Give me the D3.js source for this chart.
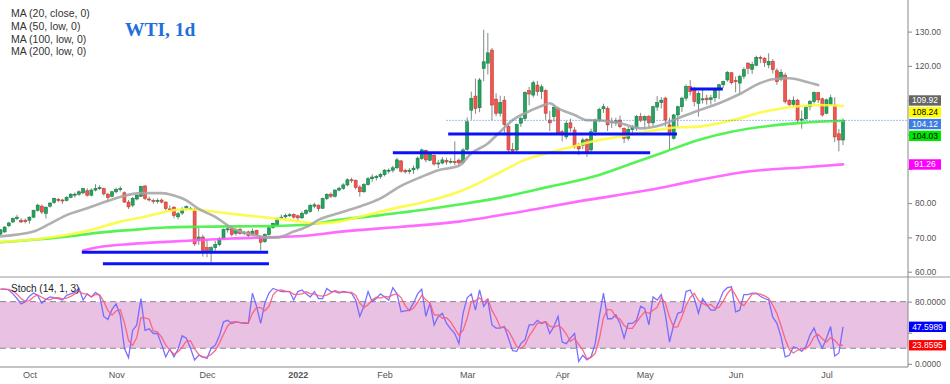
<!DOCTYPE html>
<html>
<head>
<meta charset="utf-8">
<script src="https://cdn.jsdelivr.net/npm/d3@7"></script>
<style>
  body { margin: 0; background: #fff; }
  svg { display: block; font-family: "Liberation Sans", Arial, sans-serif; }
</style>
</head>
<body>
<script>
// daily candles [open, high, low, close], 22 Sep 2021 .. 7 Jul 2022
const ohlc = [
  [71.0,72.4,70.6,72.2],[71.6,73.3,71.3,73.0],[73.4,74.5,73.0,74.2],[74.5,75.8,74.2,75.5],[75.5,76.6,75.0,75.9],
  [75.0,75.6,74.2,74.5],[75.0,75.5,74.1,74.6],[75.0,76.1,74.0,75.9],[75.9,78.1,75.6,77.9],[77.9,79.8,77.5,79.4],
  [79.1,79.6,76.8,77.4],[77.0,79.0,75.5,78.8],[79.1,80.3,78.7,80.0],[80.2,81.6,79.8,81.4],[81.1,81.5,80.3,81.0],
  [80.9,81.3,79.8,80.8],[80.8,82.0,80.5,81.7],[81.7,82.9,81.4,82.6],[82.5,83.1,81.6,82.6],[82.6,83.7,82.1,83.3],
  [83.0,84.4,82.6,84.2],[83.6,84.3,81.9,82.3],[82.3,84.3,82.0,83.8],[83.8,85.5,83.4,84.2],[84.2,85.2,83.8,84.5],
  [84.2,84.5,82.2,82.7],[82.6,83.0,80.4,81.6],[82.0,83.6,81.7,83.3],[83.3,84.5,82.8,84.0],[84.0,84.9,83.4,84.2],
  [83.0,83.4,80.1,80.3],[80.3,80.9,78.3,78.9],[79.4,81.8,78.8,81.4],[81.2,82.6,80.8,82.3],[82.0,85.1,81.8,84.8],
  [85.0,85.2,80.9,81.4],[81.2,81.9,80.5,81.0],[80.8,81.3,79.8,80.6],[80.6,81.4,79.9,80.8],[80.9,81.3,79.9,80.3],
  [80.3,80.5,77.9,78.4],[78.3,79.3,77.7,78.2],[78.8,79.1,75.6,76.4],[76.0,77.4,75.3,76.9],[77.1,78.8,76.5,78.2],
  [78.4,79.3,77.9,79.0],[78.5,78.9,78.1,78.5],[78.1,78.6,67.5,68.1],[69.1,72.9,67.8,70.1],[70.1,70.8,64.4,66.2],
  [67.0,69.2,64.2,65.7],[65.5,67.4,62.6,67.0],[67.0,69.0,66.1,67.9],[67.9,70.1,67.4,69.6],[69.7,72.6,69.5,72.3],
  [72.2,73.3,71.4,72.5],[72.6,72.8,70.3,70.9],[71.2,72.5,70.5,72.1],[72.3,72.9,70.8,71.1],[71.4,71.9,70.6,71.5],
  [71.6,72.0,70.0,70.5],[70.8,72.6,70.5,71.8],[72.0,72.2,70.4,70.8],[70.1,70.3,66.2,68.6],[68.8,71.2,68.4,70.8],
  [70.8,73.1,70.5,72.8],[72.9,74.3,72.5,74.1],[73.5,75.8,73.2,75.5],[75.5,76.7,75.2,75.9],[76.0,76.9,75.3,76.4],
  [76.3,77.1,76.0,76.6],[76.7,77.0,75.5,75.9],[76.3,76.6,74.6,75.7],[75.7,77.6,75.4,77.0],[77.0,78.3,76.6,77.8],
  [77.6,79.8,77.2,79.3],[79.1,80.1,78.5,79.5],[79.4,79.6,77.6,78.4],[78.5,81.6,78.3,81.3],[81.3,82.9,80.9,82.5],
  [82.6,83.1,81.5,82.0],[82.0,84.0,81.6,83.8],[83.8,84.8,83.4,84.3],[84.3,85.8,83.9,85.3],[85.3,87.2,84.9,86.8],
  [86.8,87.4,85.9,86.7],[86.6,86.9,84.0,84.6],[84.7,85.2,81.9,83.3],[83.3,85.8,83.0,85.4],[85.4,87.6,85.1,87.1],
  [87.1,88.4,86.2,87.6],[87.4,88.2,86.6,87.7],[87.7,88.8,87.1,88.3],[88.3,89.9,87.8,89.6],[89.4,90.1,88.6,89.6],
  [89.6,90.9,88.9,90.3],[90.3,93.2,89.9,92.6],[92.3,92.6,88.9,89.3],[89.5,90.0,88.6,89.1],[89.2,90.2,88.5,89.6],
  [89.7,91.0,88.5,90.2],[90.2,93.6,89.6,93.1],[93.0,95.9,92.6,95.5],[95.4,95.6,91.9,92.6],[92.5,94.9,92.2,94.3],
  [93.9,94.2,90.9,91.4],[91.4,92.6,90.2,91.7],[91.7,93.4,91.3,92.6],[92.4,93.2,91.2,92.0],[92.0,93.1,91.5,92.2],
  [92.1,98.0,91.0,92.0],[92.5,93.0,90.8,91.7],[91.8,96.0,91.3,95.5],[95.7,105.0,95.2,103.7],[107.1,112.5,104.3,110.5],
  [111.2,116.3,106.0,107.6],[107.8,116.5,106.5,115.9],[119.3,130.5,115.5,121.2],[120.8,129.6,117.5,123.8],[124.6,125.2,104.2,108.6],
  [110.3,112.0,105.3,106.2],[106.2,111.3,105.2,109.3],[110.0,111.2,99.8,102.9],[102.3,103.0,94.5,95.5],[95.7,97.5,94.8,95.2],
  [95.5,103.2,94.9,102.9],[103.3,105.2,102.2,104.7],[104.7,112.6,103.9,112.2],[112.8,113.9,108.5,111.8],[111.5,115.7,110.8,115.1],
  [114.4,115.6,111.3,112.5],[112.5,114.6,110.3,113.9],[112.8,113.2,104.3,106.2],[104.2,106.9,101.0,103.4],[105.2,108.5,103.7,107.9],
  [107.6,108.1,100.1,100.5],[100.8,101.3,98.0,99.9],[99.3,104.0,98.6,103.3],[103.4,104.6,100.8,101.9],[101.3,102.2,95.9,96.4],
  [96.6,97.6,94.0,95.8],[96.9,99.0,95.7,98.4],[98.6,99.0,93.5,94.5],[95.5,101.7,95.0,100.8],[100.8,104.7,99.6,104.2],
  [104.2,107.8,103.6,107.3],[107.5,109.0,106.3,108.1],[107.6,108.2,101.0,102.8],[103.7,104.9,101.9,103.4],[103.4,104.9,102.5,104.0],
  [104.2,105.5,101.8,102.3],[101.8,102.1,97.5,98.9],[98.9,102.2,98.2,101.5],[101.4,102.8,100.4,102.2],[102.0,105.7,101.1,105.2],
  [105.2,106.3,103.6,104.2],[104.2,105.6,101.5,105.2],[105.2,105.7,101.8,103.4],[103.4,108.4,102.5,108.1],[108.0,111.2,106.9,109.3],
  [109.3,110.9,107.6,110.0],[110.6,111.0,102.3,104.2],[102.8,104.9,95.6,99.9],[98.9,106.0,98.5,105.7],[105.7,108.4,101.9,108.1],
  [108.1,111.0,106.6,110.6],[110.6,114.6,109.8,114.0],[114.0,115.9,111.4,112.5],[113.5,113.9,108.2,109.6],[109.1,112.6,105.2,112.0],
  [110.2,113.6,109.0,110.4],[110.6,111.6,108.7,110.1],[110.2,111.5,108.7,110.7],[110.7,113.3,109.5,113.0],[113.0,114.8,110.3,114.5],
  [114.5,115.7,113.6,115.4],[115.9,118.5,115.4,118.1],[118.0,118.2,114.6,115.1],[115.7,116.9,112.3,115.4],[115.0,117.4,111.5,116.9],
  [117.0,119.6,116.2,118.9],[120.8,121.0,117.6,119.3],[119.0,121.2,117.6,120.4],[120.2,123.0,119.9,122.5],[122.5,123.0,120.8,122.2],
  [122.2,122.6,119.7,121.0],[120.3,123.7,119.3,121.3],[121.3,122.0,117.8,118.9],[118.6,119.3,114.5,115.4],[116.1,119.0,115.5,118.1],
  [117.3,118.0,109.0,109.6],[109.9,110.4,108.3,108.7],[108.8,111.1,107.9,110.0],[110.0,110.4,103.1,104.2],[104.2,107.0,101.7,104.5],
  [104.6,108.5,104.1,108.1],[108.1,110.1,107.1,109.6],[109.6,112.6,109.0,112.2],[112.2,112.4,109.2,110.1],[110.4,110.8,105.2,105.7],
  [106.2,110.5,105.9,110.1],[108.7,111.6,108.3,110.7],[108.6,110.9,97.8,99.3],[100.2,101.6,95.1,98.4],[98.4,104.7,96.9,104.1]
];

// stochastic %K, one per candle
const stochK = [
  96,96,95,90,84,77,80,87,91,88, 78,83,86,85,84,82,88,90,92,97,
  82,90,86,92,88,61,57,70,77,62, 20,8,43,50,84,43,45,39,39,25,
  9,19,9,19,36,33,20,5,11,9, 7,20,24,36,54,56,52,54,53,52,
  52,91,74,52,78,91,97,95,93,93, 93,82,93,95,90,86,93,84,84,97,
  93,93,91,93,92,91,82,61,74,93, 80,84,90,86,82,98,90,67,68,69,
  78,90,96,61,78,50,61,65,52,45, 39,26,65,85,90,69,95,74,82,50,
  46,46,48,33,17,16,26,31,50,50, 56,52,54,39,48,61,28,26,33,39,
  3,11,5,9,26,61,91,58,58,63, 52,33,52,52,56,74,71,50,86,82,
  89,63,28,50,65,67,93,95,84,65, 84,76,69,69,80,93,98,99,67,69,
  89,89,91,91,87,84,82,60,52,35, 9,11,22,20,16,22,37,46,31,20,
  33,48,10,14,47.6
];

// moving averages: [candle index, value]
const ma20 = [[0,70.3],[8,71.7],[12,74.0],[16,76.5],[21,78.5],[24,79.8],[29,81.8],[34,82.9],[39,82.9],[42,82.2],
  [45,80.8],[48,78.3],[52,76.0],[56,72.8],[61,70.8],[65,70.0],[67,70.0],[71,71.7],[75,73.6],[77,75.1],[82,77.1],
  [87,79.0],[92,81.4],[97,85.0],[102,87.7],[106,89.6],[111,90.9],[114,94.5],[118,97.4],[121,100.8],[124,104.2],
  [127,106.2],[131,108.3],[133,109.1],[135,107.6],[139,105.7],[142,104.2],[145,104.1],[150,103.3],[155,101.8],
  [160,102.8],[164,104.7],[169,107.0],[174,109.1],[179,111.8],[184,115.0],[187,116.1],[191,116.4],[195,115.4],[198,114.4]];
const ma50 = [[0,68.7],[8,69.4],[16,70.7],[22,72.2],[29,74.6],[35,76.0],[40,77.5],[45,78.2],[48,78.0],[55,77.0],
  [61,76.2],[66,75.6],[71,74.9],[77,74.1],[82,74.6],[87,76.0],[92,77.5],[97,78.9],[102,80.1],[106,81.4],[111,83.3],
  [114,84.8],[121,89.0],[127,92.6],[133,94.8],[139,96.6],[143,97.9],[149,99.2],[155,100.5],[160,101.5],[164,102.1],
  [169,102.3],[174,103.3],[179,104.7],[184,106.4],[189,107.6],[194,108.3],[198,108.6],[204,108.3]];
const ma100 = [[0,68.6],[16,70.2],[24,71.4],[32,72.2],[40,72.9],[48,73.1],[56,73.2],[65,73.3],[73,73.6],[82,75.1],
  [92,76.5],[102,78.0],[111,79.6],[121,81.6],[133,84.8],[145,88.2],[153,91.6],[161,95.0],[169,98.4],[177,100.8],
  [186,102.5],[194,103.4],[204,104.0]];
const ma200 = [[20,66.2],[24,67.2],[32,68.1],[40,68.7],[48,69.2],[56,69.7],[65,70.0],[73,70.4],[82,71.6],[97,73.1],
  [111,74.6],[126,77.5],[140,80.5],[157,83.8],[169,86.7],[181,89.2],[194,90.4],[204,91.3]];

// hand-drawn support / resistance lines
const levelPrice = [65.66, 62.33, 94.69, 100.15, 113.27];
const levelFrom  = [19.7, 24.8, 95.0, 108.4, 167.0];
const levelTo    = [64.8, 65.0, 157.3, 163.8, 174.9];

const lastPrice = 104.12;
const lastPriceFrom = 108;

const priceTicks = [60, 70, 80, 90, 100, 110, 120, 130];
const stochTicks = [0, 40, 80];
const priceTags = [109.92, 108.24, 104.12, 104.03, 91.26];
const priceTagFill = ["#666666", "#ffff00", "#3d7ee0", "#00e600", "#ff00ff"];
const priceTagInk = ["#fff", "#000", "#fff", "#000", "#fff"];
const stochTags = [47.5989, 23.8595];
const stochTagFill = ["#0000ff", "#ff0000"];

const legendLabels = ["MA (20, close, 0)", "MA (50, low, 0)", "MA (100, low, 0)", "MA (200, low, 0)"];
const holidays = ["2021-12-24", "2022-04-15"];

const W = 950, H = 384;
const axisX = 908;

const fmtDay = d3.timeFormat("%Y-%m-%d");
const dates = d3.timeDay.range(new Date(2021, 8, 22), new Date(2022, 6, 8))
  .filter(d => d.getDay() !== 0 && d.getDay() !== 6 && !holidays.includes(fmtDay(d)));

const stochD = stochK.map((v, i) => d3.mean(stochK.slice(Math.max(0, i - 2), i + 1)));

const x = d3.scaleLinear().domain([0, ohlc.length - 1]).range([0.5, 843]);
const y = d3.scaleLinear().domain([60, 130]).range([271.7, 31.6]);
const ys = d3.scaleLinear().domain([0, 100]).range([363.8, 286.1]);

const svg = d3.select("body").append("svg")
  .attr("width", W)
  .attr("height", H);

// stochastic band
svg.append("rect")
  .attr("x", 0).attr("width", axisX)
  .attr("y", ys(80)).attr("height", ys(20) - ys(80))
  .attr("fill", "#e8c1e3");

svg.selectAll(".band-edge")
  .data([80, 20])
  .join("line")
  .attr("x1", 0).attr("x2", axisX)
  .attr("y1", d => ys(d)).attr("y2", d => ys(d))
  .attr("stroke", "#8a8a8a")
  .attr("stroke-dasharray", "6,4");

// panel separator
svg.append("line")
  .attr("x1", 0).attr("x2", W)
  .attr("y1", 277).attr("y2", 277)
  .attr("stroke", "#999");

// candles
const candles = svg.append("g");
candles.selectAll("line")
  .data(ohlc)
  .join("line")
  .attr("x1", (d, i) => x(i)).attr("x2", (d, i) => x(i))
  .attr("y1", d => y(d[1])).attr("y2", d => y(d[2]))
  .attr("stroke", "#7f8c85")
  .attr("stroke-width", 1);

const bw = 3;
candles.selectAll("rect")
  .data(ohlc)
  .join("rect")
  .attr("x", (d, i) => x(i) - bw / 2)
  .attr("width", bw)
  .attr("y", d => y(Math.max(d[0], d[3])))
  .attr("height", d => Math.max(1, Math.abs(y(d[0]) - y(d[3]))))
  .attr("fill", d => d[3] >= d[0] ? "#23a45e" : "#f2564f")
  .attr("stroke", d => d[3] >= d[0] ? "#147a42" : "#c23a33")
  .attr("stroke-width", 0.6);

// moving averages
const maLine = d3.line()
  .x(d => x(d[0]))
  .y(d => y(d[1]))
  .curve(d3.curveMonotoneX);

const maSeries = [
  {data: ma100, color: "#3ef03e"},
  {data: ma200, color: "#ff55ff"},
  {data: ma50, color: "#fbfb3a"},
  {data: ma20, color: "#a5a5a5"}
];

svg.append("g")
  .selectAll("path")
  .data(maSeries)
  .join("path")
  .attr("d", d => maLine(d.data))
  .attr("fill", "none")
  .attr("stroke", d => d.color)
  .attr("stroke-width", 2.6)
  .attr("stroke-linecap", "round")
  .attr("opacity", 0.88);

// support / resistance
svg.append("g")
  .selectAll("line")
  .data(levelPrice)
  .join("line")
  .attr("x1", (d, i) => x(levelFrom[i]))
  .attr("x2", (d, i) => x(levelTo[i]))
  .attr("y1", d => y(d)).attr("y2", d => y(d))
  .attr("stroke", "#0b12f5")
  .attr("stroke-width", 3);

// last price line
svg.append("line")
  .attr("x1", x(lastPriceFrom)).attr("x2", axisX)
  .attr("y1", y(lastPrice)).attr("y2", y(lastPrice))
  .attr("stroke", "#4a7be0")
  .attr("stroke-width", 1)
  .attr("stroke-dasharray", "1,2");

// stochastic lines
const kLine = d3.line().x((d, i) => x(i)).y(d => ys(d));
svg.append("path")
  .attr("d", kLine(stochK))
  .attr("fill", "none")
  .attr("stroke", "#6e62ff")
  .attr("stroke-width", 1.3)
  .attr("opacity", 0.9);
svg.append("path")
  .attr("d", kLine(stochD))
  .attr("fill", "none")
  .attr("stroke", "#ff5a78")
  .attr("stroke-width", 1.3)
  .attr("opacity", 0.9);

// axes
svg.append("line")
  .attr("x1", axisX).attr("x2", axisX)
  .attr("y1", 0).attr("y2", 367)
  .attr("stroke", "#888");
svg.append("line")
  .attr("x1", 0).attr("x2", axisX)
  .attr("y1", 367).attr("y2", 367)
  .attr("stroke", "#888");

// tag positions, pushed down so they do not collide
const tagY = [];
priceTags.forEach((v, k) => {
  const natural = y(v);
  tagY.push(k === 0 ? natural : Math.max(natural, tagY[k - 1] + 11.8));
});
const stochTagY = stochTags.map(v => ys(v));

const yAxis = svg.append("g")
  .attr("transform", `translate(${axisX},0)`)
  .call(d3.axisRight(y).tickValues(priceTicks).tickFormat(d3.format(".2f")).tickSize(4).tickPadding(3));

const sAxis = svg.append("g")
  .attr("transform", `translate(${axisX},0)`)
  .call(d3.axisRight(ys).tickValues(stochTicks).tickFormat(d3.format(".4f")).tickSize(4).tickPadding(3));

const monthIdx = dates.map((d, i) => i)
  .filter(i => i > 0 && dates[i].getMonth() !== dates[i - 1].getMonth());

const xAxis = svg.append("g")
  .attr("transform", "translate(0,367)")
  .call(d3.axisBottom(x)
    .tickValues(monthIdx)
    .tickFormat(i => dates[i].getMonth() === 0 ? d3.timeFormat("%Y")(dates[i]) : d3.timeFormat("%b")(dates[i]))
    .tickSize(0)
    .tickPadding(5));

[yAxis, sAxis, xAxis].forEach(a => {
  a.select(".domain").remove();
  a.selectAll("line").attr("stroke", "#888");
  a.selectAll("text")
    .attr("fill", "#555")
    .attr("font-size", 8.5)
    .attr("font-family", "Liberation Sans, Arial, sans-serif");
});
xAxis.selectAll("text")
  .attr("font-size", 9)
  .attr("font-weight", i => dates[i].getMonth() === 0 ? "bold" : "normal");

// tick labels that sit under a value tag are covered in the original
yAxis.selectAll(".tick text")
  .attr("display", d => tagY.some(t => Math.abs(t - y(d)) < 10) ? "none" : null);
sAxis.selectAll(".tick text")
  .attr("display", d => stochTagY.some(t => Math.abs(t - ys(d)) < 10) ? "none" : null);

// value tags on the price axis
const tags = svg.append("g");
priceTags.forEach((v, k) => {
  tags.append("rect")
    .attr("x", axisX + 1).attr("width", 32)
    .attr("y", tagY[k] - 5.2).attr("height", 10.4)
    .attr("fill", priceTagFill[k]);
  tags.append("text")
    .attr("x", axisX + 17).attr("y", tagY[k])
    .attr("dy", "0.35em")
    .attr("text-anchor", "middle")
    .attr("font-size", 8.5)
    .attr("fill", priceTagInk[k])
    .text(d3.format(".2f")(v));
});
stochTags.forEach((v, k) => {
  tags.append("rect")
    .attr("x", axisX + 1).attr("width", 37)
    .attr("y", stochTagY[k] - 5.2).attr("height", 10.4)
    .attr("fill", stochTagFill[k]);
  tags.append("text")
    .attr("x", axisX + 19.5).attr("y", stochTagY[k])
    .attr("dy", "0.35em")
    .attr("text-anchor", "middle")
    .attr("font-size", 8.5)
    .attr("fill", "#fff")
    .text(d3.format(".4f")(v));
});

// legend and titles
svg.append("g")
  .selectAll("text")
  .data(legendLabels)
  .join("text")
  .attr("x", 11)
  .attr("y", (d, i) => 17 + i * 12.8)
  .attr("font-size", 10.5)
  .attr("fill", "#333")
  .text(d => d);

svg.append("text")
  .attr("x", 125).attr("y", 36)
  .attr("font-family", "Liberation Serif, Times New Roman, serif")
  .attr("font-weight", "bold")
  .attr("font-size", 19.5)
  .attr("fill", "#1f6fe0")
  .text("WTI, 1d");

svg.append("text")
  .attr("x", 11).attr("y", 292)
  .attr("font-size", 10)
  .attr("fill", "#222")
  .text("Stoch (14, 1, 3)");
</script>
</body>
</html>
